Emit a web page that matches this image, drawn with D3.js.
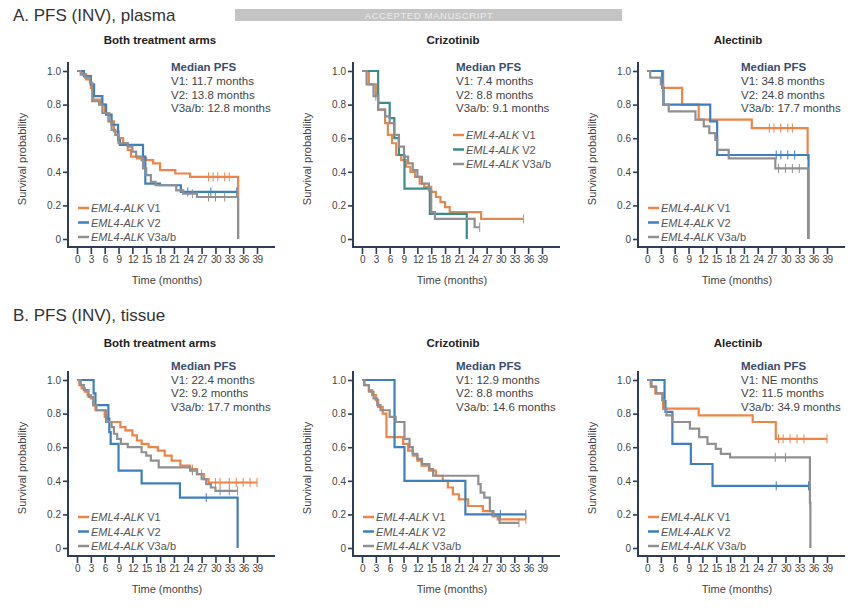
<!DOCTYPE html>
<html><head><meta charset="utf-8">
<script src="https://cdn.jsdelivr.net/npm/d3@7"></script>
<style>body{margin:0;background:#fff}svg{display:block;font-family:Arial,"Liberation Sans",sans-serif}</style>
</head><body><svg id="c" width="863" height="608"></svg>
<script>
// ---------- data ----------
const rowTitles = ["A. PFS (INV), plasma", "B. PFS (INV), tissue"];
const panelTitles = ["Both treatment arms", "Crizotinib", "Alectinib"];
const seriesNames = ["V1", "V2", "V3a/b"];
const xTicks = [0,3,6,9,12,15,18,21,24,27,30,33,36,39];
const yTicks = [0,0.2,0.4,0.6,0.8,1.0];
const yTickLabels = ["0","0.2","0.4","0.6","0.8","1.0"];

const medians = [
  ["11.7","13.8","12.8"], ["7.4","8.8","9.1"], ["34.8","24.8","17.7"],
  ["22.4","9.2","17.7"], ["12.9","8.8","14.6"], ["NE","11.5","34.9"]
];

// step curves [time, survival] and censor times
const a1_v1 = [[0,1],[1,0.98],[2,0.95],[3,0.90],[3.5,0.83],[5.2,0.80],[6,0.75],[7,0.70],[8,0.64],[9,0.60],[10,0.57],[11,0.53],[11.7,0.49],[13,0.48],[15,0.47],[16.5,0.45],[18,0.41],[21.3,0.39],[24.5,0.37],[34.9,0]];
const a1_v1_c = [28.5,29.5,30.5,32,33];
const a1_v2 = [[0,1],[1.5,0.97],[3,0.92],[3.7,0.85],[5.5,0.80],[6.3,0.74],[7.5,0.68],[8.9,0.59],[9.3,0.56],[14.3,0.49],[14.8,0.33],[18,0.32],[22.5,0.28]];
const a1_v2_c = [24,29,34.6];
const a1_v3 = [[0,1],[0.8,0.98],[1.8,0.96],[2.8,0.93],[3.3,0.82],[4.8,0.80],[5.5,0.75],[6.8,0.70],[7.5,0.65],[8.3,0.62],[9,0.57],[11,0.55],[12,0.52],[12.8,0.49],[14,0.47],[14.3,0.42],[15,0.38],[16,0.34],[17,0.32],[21.5,0.29],[23,0.27],[26,0.25],[34.9,0]];
const a1_v3_c = [25,28.5,30,32];

const a2_v1 = [[0,1],[1.5,0.92],[3,0.85],[3.5,0.77],[5,0.69],[5.6,0.62],[6.5,0.57],[7.4,0.50],[8.5,0.47],[9.5,0.43],[10.5,0.40],[11.5,0.37],[12.5,0.33],[13.5,0.31],[15,0.28],[16,0.25],[17,0.22],[18,0.19],[19,0.16],[25.8,0.12]];
const a2_v1_c = [35];
const a2_v2 = [[0,1],[3.5,0.81],[6,0.72],[7,0.60],[8,0.50],[9.2,0.30],[14.7,0.15],[22.7,0]];
const a2_v2_c = [];
const a2_v3 = [[0,1],[1,0.92],[2.5,0.85],[3.5,0.77],[5,0.73],[6,0.69],[7,0.62],[8,0.55],[9.1,0.49],[10,0.45],[11,0.41],[12,0.37],[13,0.33],[14.5,0.29],[15,0.16],[15.8,0.12],[24.4,0.07]];
const a2_v3_c = [3,25.5];

const a3_v1 = [[0,1],[3.5,0.90],[7.6,0.80],[11.2,0.71],[22.7,0.66],[34.8,0.5]];
const a3_v1_c = [26.5,27.5,29,30.5,31.5,34.8];
const a3_v2 = [[0,1],[3.3,0.90],[3.6,0.80],[13.7,0.70],[15.2,0.50],[35,0]];
const a3_v2_c = [28,29,30.5,32];
const a3_v3 = [[0,1],[0.7,0.96],[3,0.92],[3.5,0.80],[4.7,0.76],[10.5,0.71],[12.3,0.67],[13.5,0.63],[14.8,0.59],[15.2,0.53],[17.7,0.48],[27.8,0.42],[34.9,0]];
const a3_v3_c = [28.5,30,31.5,33];

const b1_v1 = [[0,1],[0.5,0.97],[1,0.95],[1.7,0.93],[2.3,0.91],[3,0.89],[3.5,0.85],[4,0.82],[6,0.78],[6.5,0.75],[9.4,0.72],[10.5,0.70],[12,0.67],[13,0.64],[14,0.62],[15.5,0.60],[17.5,0.58],[19,0.55],[20.5,0.52],[22.4,0.49],[24.5,0.47],[26,0.44],[27.5,0.41],[28.5,0.39]];
const b1_v1_c = [25,27,30,31,33,34.5,36,37.5,39];
const b1_v2 = [[0,1],[3.6,0.92],[4,0.85],[6.8,0.77],[7,0.69],[7.3,0.62],[9,0.46],[14,0.385],[22.3,0.30],[34.8,0]];
const b1_v2_c = [28];
const b1_v3 = [[0,1],[0.8,0.97],[1.5,0.94],[2.5,0.90],[3.5,0.85],[4.2,0.82],[6.3,0.75],[7.5,0.72],[8,0.68],[8.7,0.65],[9.5,0.62],[11,0.60],[14,0.57],[15,0.55],[16,0.52],[17.7,0.48],[24.5,0.46],[26,0.44],[27,0.41],[28,0.38],[29,0.36],[30,0.34]];
const b1_v3_c = [25,31,33,34.8];

const b2_v1 = [[0,1],[0.5,0.97],[1.5,0.94],[2.2,0.91],[3,0.88],[3.5,0.84],[4.5,0.80],[5.3,0.66],[8.9,0.62],[10,0.58],[11,0.55],[12,0.52],[12.9,0.49],[14.5,0.46],[16,0.43],[17.5,0.40],[18.6,0.36],[19.7,0.32],[21,0.29],[23,0.25],[26.2,0.22],[28.3,0.19],[29.4,0.17]];
const b2_v1_c = [35.5];
const b2_v2 = [[0,1],[7.05,0.60],[9.2,0.40],[22.4,0.20]];
const b2_v2_c = [30,35.5];
const b2_v3 = [[0,1],[0.5,0.97],[1.5,0.93],[2.5,0.89],[3.3,0.85],[4,0.82],[6,0.78],[7.3,0.75],[9.2,0.65],[10.3,0.60],[11,0.56],[12,0.53],[13,0.50],[14.6,0.47],[15.4,0.43],[25.2,0.38],[25.7,0.33],[26.5,0.30],[27.7,0.22],[28.5,0.19],[29.8,0.15]];
const b2_v3_c = [34];

const b3_v1 = [[0,1],[1,0.96],[1.8,0.92],[3.5,0.83],[11.2,0.79],[22.9,0.75],[27.9,0.65]];
const b3_v1_c = [28.5,29.5,31,32.5,34,39];
const b3_v2 = [[0,1],[3.8,0.875],[4,0.81],[5.5,0.62],[9.5,0.50],[14.2,0.37]];
const b3_v2_c = [28,35];
const b3_v3 = [[0,1],[0.8,0.96],[2,0.92],[3.3,0.88],[3.7,0.83],[4.2,0.79],[5.5,0.75],[9.3,0.71],[11.3,0.66],[13.1,0.62],[14.9,0.59],[16,0.56],[18,0.54],[35.3,0.27],[35.4,0]];
const b3_v3_c = [27.8,30,35.35];

const panelCurves = [
  [[a1_v1,a1_v1_c],[a1_v2,a1_v2_c],[a1_v3,a1_v3_c]],
  [[a2_v1,a2_v1_c],[a2_v2,a2_v2_c],[a2_v3,a2_v3_c]],
  [[a3_v1,a3_v1_c],[a3_v2,a3_v2_c],[a3_v3,a3_v3_c]],
  [[b1_v1,b1_v1_c],[b1_v2,b1_v2_c],[b1_v3,b1_v3_c]],
  [[b2_v1,b2_v1_c],[b2_v2,b2_v2_c],[b2_v3,b2_v3_c]],
  [[b3_v1,b3_v1_c],[b3_v2,b3_v2_c],[b3_v3,b3_v3_c]]
];

// ---------- styles ----------
const colors = ["#ee8448", "#3f7fbe", "#909090"];
const colorsA2 = ["#e08a52", "#3b8c8e", "#909090"];
const axisColor = "#2d3c57";
const textColor = "#444";

const svg = d3.select("#c");

// banner
svg.append("rect").attr("x",235).attr("y",9).attr("width",387).attr("height",12).attr("fill","#c4c4c4");
svg.append("text").attr("x",429).attr("y",18.5).attr("text-anchor","middle")
  .attr("font-size",9.5).attr("fill","#ececec").attr("letter-spacing",0.6).text("ACCEPTED MANUSCRIPT");

// row titles
[21, 321].forEach((y,i)=>{
  svg.append("text").attr("x",13).attr("y",y).attr("font-size",17).attr("fill","#333").text(rowTitles[i]);
});

const titleY = [44, 347];
const medianTop = [71, 369.5];
const titleDx = [92, 100, 100];

function stepVal(curve, t){
  let v = 1;
  for (const p of curve) { if (p[0] <= t) v = p[1]; }
  return v;
}

for (let p = 0; p < 6; p++) {
  const row = Math.floor(p/3), col = p % 3;
  const ox = 68 + col*285;
  const y1 = 71 + row*309, y0 = 239 + row*309;
  const x = d3.scaleLinear().domain([0,39]).range([ox+9, ox+189]);
  const y = d3.scaleLinear().domain([0,1]).range([y0, y1]);
  const g = svg.append("g");
  const axY = y0 + 8;
  const cols = (p === 1) ? colorsA2 : colors;

  // curves
  panelCurves[p].forEach((sc, i) => {
    const [curve, cens] = sc;
    const tEnd = Math.max(curve[curve.length-1][0], ...(cens.length ? cens : [0]));
    const pts = curve.concat([[tEnd, curve[curve.length-1][1]]]);
    const line = d3.line().x(d=>x(d[0])).y(d=>y(d[1])).curve(d3.curveStepAfter);
    g.append("path").attr("d", line(pts)).attr("fill","none")
      .attr("stroke", cols[i]).attr("stroke-width", 2.2).attr("stroke-linejoin","miter");
    cens.forEach(t => {
      const v = stepVal(curve, t);
      g.append("line").attr("x1",x(t)).attr("x2",x(t)).attr("y1",y(v)-4.5).attr("y2",y(v)+4.5)
        .attr("stroke", cols[i]).attr("stroke-width",1);
    });
  });

  // axes
  const xAxis = d3.axisBottom(x).tickValues(xTicks).tickSize(7).tickPadding(2).tickFormat(d3.format("d"));
  const xg = g.append("g").attr("transform", `translate(0,${axY})`).call(xAxis);
  xg.select(".domain").remove();
  xg.selectAll(".tick line").attr("stroke", axisColor).attr("stroke-width",1.6);
  xg.selectAll(".tick text").attr("font-size",10).attr("fill",textColor).attr("letter-spacing",-0.6)
    .attr("font-family","Arial, 'Liberation Sans', sans-serif");
  g.append("line").attr("x1",ox-1).attr("x2",ox+207).attr("y1",axY).attr("y2",axY)
    .attr("stroke",axisColor).attr("stroke-width",2);

  const yAxis = d3.axisLeft(y).tickValues(yTicks).tickSize(5).tickPadding(2).tickFormat((d,i)=>yTickLabels[i]);
  const yg = g.append("g").attr("transform", `translate(${ox},0)`).call(yAxis);
  yg.select(".domain").remove();
  yg.selectAll(".tick line").attr("stroke", axisColor).attr("stroke-width",1.6);
  yg.selectAll(".tick text").attr("font-size",10).attr("fill",textColor)
    .attr("font-family","Arial, 'Liberation Sans', sans-serif");
  g.append("line").attr("x1",ox).attr("x2",ox).attr("y1",y1-9).attr("y2",axY+1)
    .attr("stroke",axisColor).attr("stroke-width",2);

  // titles & labels
  g.append("text").attr("x", ox+titleDx[col]).attr("y", titleY[row]).attr("text-anchor","middle")
    .attr("font-size",11.5).attr("font-weight","bold").attr("fill","#222").text(panelTitles[col]);
  g.append("text").attr("transform",`translate(${ox-42},${(y0+y1)/2+4}) rotate(-90)`)
    .attr("text-anchor","middle").attr("font-size",11).attr("fill",textColor).text("Survival probability");
  g.append("text").attr("x", ox+99).attr("y", axY+37).attr("text-anchor","middle")
    .attr("font-size",11).attr("fill",textColor).text("Time (months)");

  // median block
  const mx = ox + 103, my = medianTop[row];
  g.append("text").attr("x",mx).attr("y",my).attr("font-size",11.5).attr("font-weight","bold")
    .attr("fill","#3a4d6e").text("Median PFS");
  seriesNames.forEach((s,i)=>{
    g.append("text").attr("x",mx).attr("y",my+14+i*13.5).attr("font-size",11.5).attr("fill",textColor)
      .text(`${s}: ${medians[p][i]} months`);
  });

  // legend
  let lx, ly;
  if (p === 1) { lx = ox+100; ly = y1 + 64; } else { lx = ox+10; ly = y1 + 137; }
  seriesNames.forEach((s,i)=>{
    const yy = ly + i*14.5;
    g.append("line").attr("x1",lx).attr("x2",lx+11).attr("y1",yy).attr("y2",yy)
      .attr("stroke",cols[i]).attr("stroke-width",2.5);
    const t = g.append("text").attr("x",lx+13).attr("y",yy+4).attr("font-size",11).attr("fill","#555");
    t.append("tspan").attr("font-style","italic").text("EML4-ALK");
    t.append("tspan").text(" " + s);
  });
}
</script></body></html>
